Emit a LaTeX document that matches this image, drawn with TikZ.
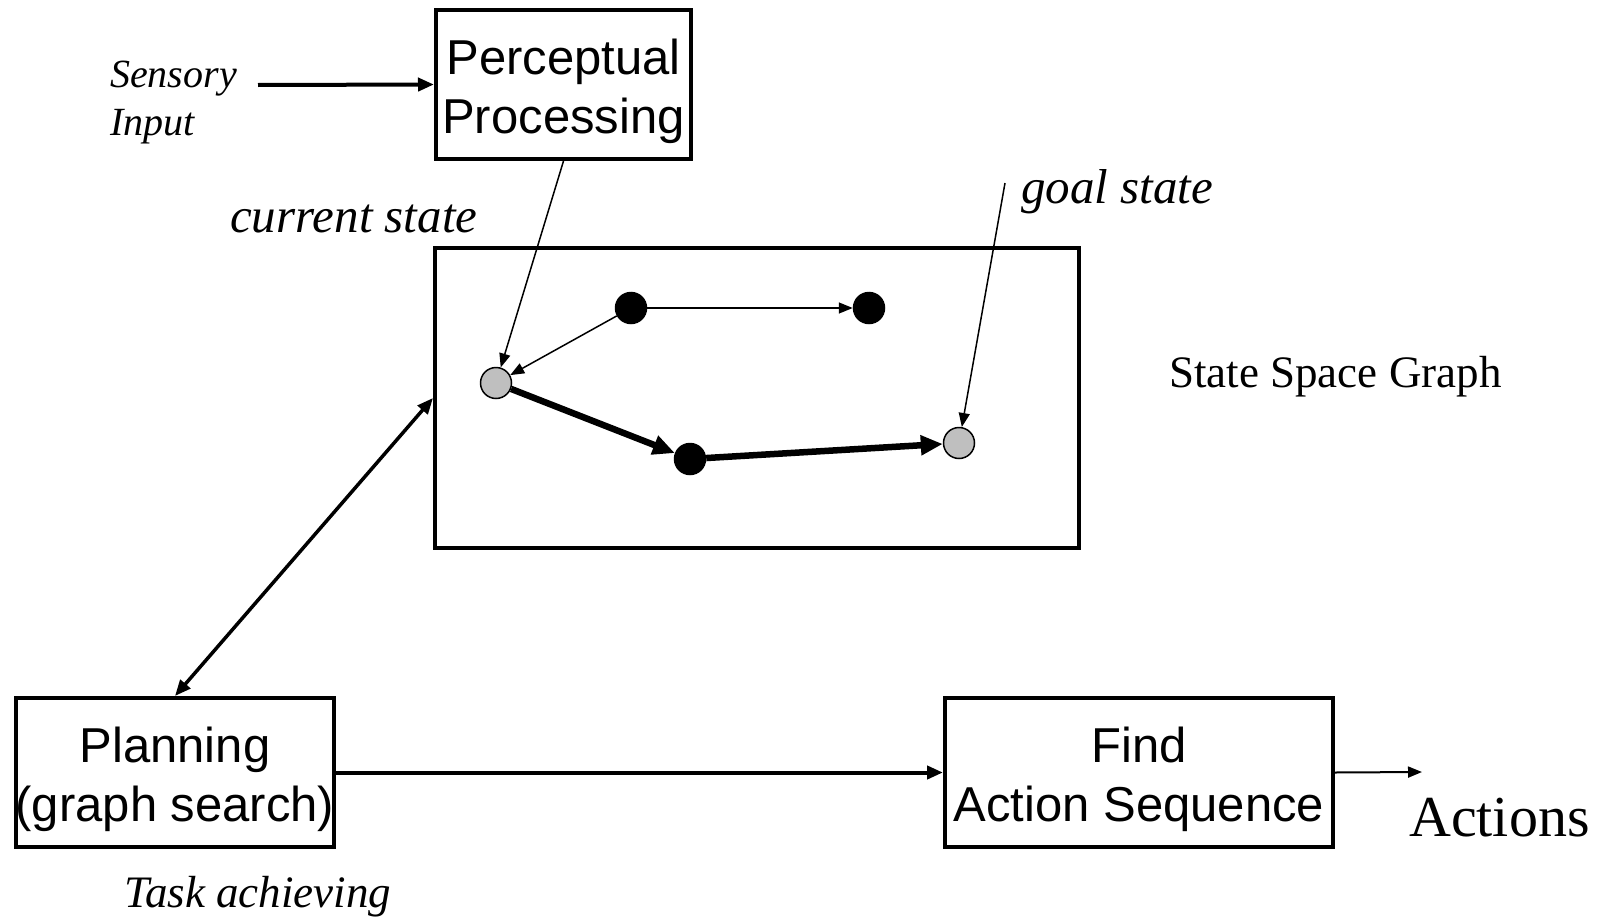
\documentclass[tikz,border=0pt]{standalone}
\usepackage{fontspec}
\setmainfont{Liberation Serif}
\setsansfont{Liberation Sans}
\usetikzlibrary{arrows.meta}
% lifts the first line of a box label so the text sits a little lower
\newcommand{\boxtop}{\rule{0pt}{50pt}}
\tikzset{
  % boxes of the processing chain
  procbox/.style={draw, line width=4pt, inner xsep=0pt, inner ysep=0pt, align=center,
                  minimum height=149pt, font=\sffamily\fontsize{49}{59}\selectfont},
  lbl/.style={inner sep=0pt, font=\itshape\fontsize{49}{59}\selectfont},
  state/.style={circle, draw, line width=1.5pt, fill=black, minimum size=31pt, inner sep=0pt},
  endstate/.style={state, fill=black!25},
  link/.style={-{Triangle[length=14pt,width=11pt]}, line width=1.5pt},
  pathlink/.style={-{Triangle[length=22pt,width=19pt]}, line width=6.5pt},
  flow/.style={-{Triangle[length=16pt,width=13pt]}, line width=4pt},
}

\begin{document}
\begin{tikzpicture}[x=1pt,y=-1pt]
  \useasboundingbox (0,0) rectangle (1598,918);

  % ---- perception ----
  \node[procbox, minimum width=255pt] (perc) at (563.5,84.5) {\boxtop Perceptual\\Processing};
  \node[anchor=west, inner sep=0pt, align=left, font=\itshape\fontsize{40}{48}\selectfont] (sens) at (110,103) {Sensory\\Input};
  \coordinate (sensend) at (258,85);
  \draw[flow] (sensend) -- (perc.west);

  % ---- the state space graph ----
  \node[draw, line width=4pt, minimum width=644pt, minimum height=300pt] (ssg) at (757,398) {};
  \node[anchor=base west, inner sep=0pt, font=\fontsize{45}{54}\selectfont] (ssglbl) at (1169,387) {State Space Graph};

  \node[endstate] (cur)  at (496,383) {};
  \node[state]    (sa)   at (631,308) {};
  \node[state]    (sb)   at (869,308) {};
  \node[state]    (sc)   at (690,459) {};
  \node[endstate] (goal) at (959,443) {};

  \draw[link] (sa) -- (cur);
  \draw[link] (sa) -- (sb);
  \draw[pathlink] (cur) -- (sc);
  \draw[pathlink] (sc) -- (goal);

  \node[lbl, anchor=base west] (curlbl)  at (230,232)  {current state};
  \node[lbl, anchor=base west] (goallbl) at (1021,203) {goal state};
  \coordinate (goalend) at (1005,183);
  \draw[link] (perc.south) -- (cur);
  \draw[link] (goalend) -- (goal);

  % ---- planning and acting ----
  \node[procbox, minimum width=314pt] (plan) at (175,772.5) {\boxtop Planning\\(graph search)};
  \node[procbox, minimum width=388pt] (find) at (1139,772.5) {\boxtop Find\\Action Sequence};
  \node[lbl, anchor=base west, font=\itshape\fontsize{45}{54}\selectfont] (task) at (124,907) {Task achieving};

  \draw[{Triangle[length=16pt,width=13pt]}-{Triangle[length=16pt,width=13pt]}, line width=3.5pt] (plan.north) -- (ssg.west);
  \draw[flow] (plan.east) -- (find.west);

  \coordinate (actend) at (1422,772);
  \draw[-{Triangle[length=14pt,width=11pt]}, line width=2pt] (find.east) -- (actend);
  \node[anchor=base west, inner sep=0pt, font=\fontsize{58}{70}\selectfont] (act) at (1409,836) {Actions};
\end{tikzpicture}
\end{document}
